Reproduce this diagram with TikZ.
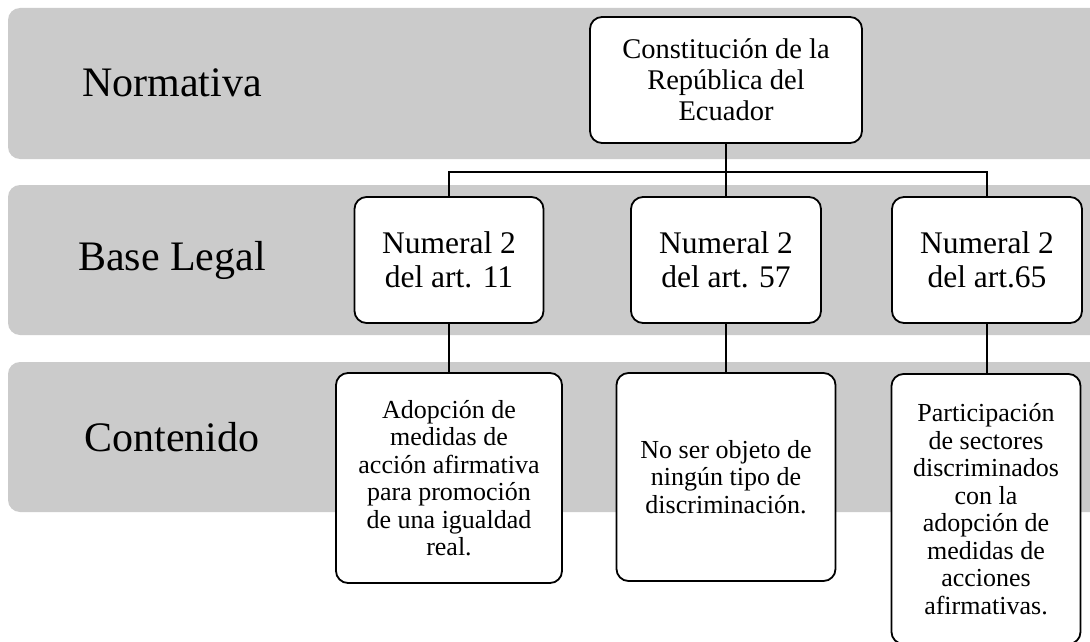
\documentclass[tikz,border=0pt]{standalone}
\usepackage{fontspec}
\setmainfont{Liberation Serif}
\definecolor{bandgray}{HTML}{CBCBCB}
\begin{document}
\begin{tikzpicture}[x=1pt,y=-1pt,
  band/.style={fill=bandgray, rounded corners=12pt},
  bandlabel/.style={font=\fontsize{42}{48}\selectfont, inner sep=0pt},
  box/.style={draw=black, fill=white, line width=1.8pt, rounded corners=12pt, align=center, inner sep=2pt},
  topbox/.style={box, font=\fontsize{28.5}{31}\selectfont},
  basebox/.style={box, font=\fontsize{31.5}{34}\selectfont},
  contbox/.style={box, font=\fontsize{26}{27.5}\selectfont},
  conn/.style={draw=black, line width=1.8pt}
]
\useasboundingbox (0,0) rectangle (1090,642);
\begin{scope}
\clip (0,0) rectangle (1090,642);
\fill[band] (8,8) rectangle (1110,159);
\fill[band] (8,185) rectangle (1110,335);
\fill[band] (8,362) rectangle (1110,512);

\node[bandlabel] (l1) at (172,83) {Normativa};
\node[bandlabel] (l2) at (172,260) {Base Legal};
\node[bandlabel] (l3) at (172,437) {Contenido};

\node[topbox, minimum width=272pt, minimum height=126pt] (top) at (726,80)
  {Constitución de la\\República del\\Ecuador};

\node[basebox, minimum width=189pt, minimum height=126pt] (b1) at (449,260)
  {Numeral 2\\del art. 11};
\node[basebox, minimum width=190pt, minimum height=126pt] (b2) at (726,260)
  {Numeral 2\\del art. 57};
\node[basebox, minimum width=190pt, minimum height=126pt] (b3) at (987,260)
  {Numeral 2\\del art.65};

\node[contbox, minimum width=226pt, minimum height=210pt] (c1) at (449,478)
  {Adopción de\\medidas de\\acción afirmativa\\para promoción\\de una igualdad\\real.};
\node[contbox, minimum width=219pt, minimum height=208pt] (c2) at (726,477)
  {No ser objeto de\\ningún tipo de\\discriminación.};
\node[contbox, minimum width=189pt, minimum height=270pt] (c3) at (986,509)
  {Participación\\de sectores\\discriminados\\con la\\adopción de\\medidas de\\acciones\\afirmativas.};

\coordinate (bus) at (726,172);
\draw[conn] (top.south) -- (bus);
\draw[conn] (b1.north) |- (bus) -| (b3.north);
\draw[conn] (bus) -- (b2.north);
\draw[conn] (b1.south) -- (c1.north);
\draw[conn] (b2.south) -- (c2.north);
\draw[conn] (b3.south) -- (c3.north -| b3.south);
\end{scope}
\end{tikzpicture}
\end{document}
